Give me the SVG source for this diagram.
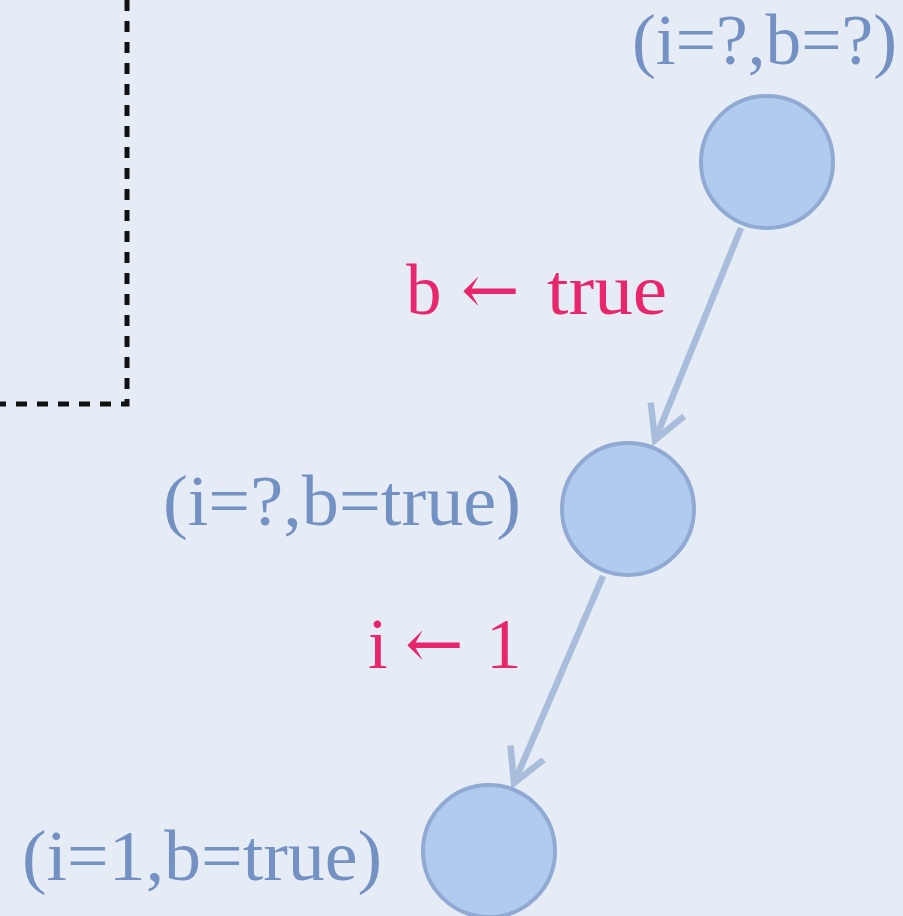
<svg xmlns="http://www.w3.org/2000/svg" width="903" height="916" viewBox="0 0 903 916">
<style>
.lbl{font-family:"Liberation Serif","DejaVu Serif",serif;font-size:71px;fill:#7391c2}
.act{font-family:"Liberation Serif","DejaVu Serif",serif;font-size:71px;fill:#e8266b}
.arr{font-family:"DejaVu Serif",serif;font-size:70px}
.node{fill:#b1cbef;stroke:#90aad4;stroke-width:4}
.edge{fill:none;stroke:#a8bddc;stroke-width:6.5}
.dash{fill:none;stroke:#111;stroke-width:5;stroke-dasharray:11 10}
</style>
<defs>
<marker id="ah" markerUnits="userSpaceOnUse" markerWidth="80" markerHeight="80" viewBox="-40 -40 80 80" refX="0" refY="0" orient="auto" overflow="visible">
<path d="M -33 -18 L 0 0 L -33 18" fill="none" stroke="#a8bddc" stroke-width="6.5"/>
</marker>
</defs>
<rect width="903" height="916" fill="#e5ecf5"/>
<path class="dash" d="M 127 0 L 127 404 L 0 404"/>
<g id="connectors">
<path class="edge" d="M 741 228 L 655 440" marker-end="url(#ah)"/>
<path class="edge" d="M 603 576 L 514 783" marker-end="url(#ah)"/>
</g>
<g id="n1">
<circle class="node" cx="767" cy="162" r="66"/>
<text class="lbl" x="632" y="64" textLength="265" lengthAdjust="spacingAndGlyphs">(i=?,b=?)</text>
</g>
<g id="n2">
<circle class="node" cx="628" cy="509" r="66"/>
<text class="lbl" x="163" y="525" textLength="358" lengthAdjust="spacingAndGlyphs">(i=?,b=true)</text>
</g>
<g id="n3">
<circle class="node" cx="489" cy="851" r="66"/>
<text class="lbl" x="22" y="880" textLength="360" lengthAdjust="spacingAndGlyphs">(i=1,b=true)</text>
</g>
<g id="labels">
<text class="act" y="314"><tspan x="406">b </tspan><tspan class="arr" x="461">← </tspan><tspan x="547" textLength="120" lengthAdjust="spacingAndGlyphs">true</tspan></text>
<text class="act" y="668"><tspan x="368">i </tspan><tspan class="arr" x="405">← </tspan><tspan x="486">1</tspan></text>
</g>
</svg>
